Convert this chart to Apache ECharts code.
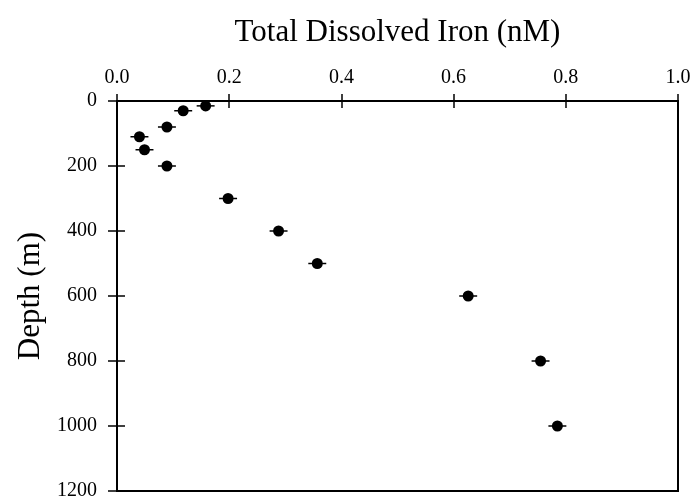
<!DOCTYPE html>
<html>
<head>
<meta charset="UTF-8">
<title>Total Dissolved Iron</title>
<script src="https://cdn.jsdelivr.net/npm/echarts@6/dist/echarts.min.js"></script>
<style>
  html, body { margin: 0; padding: 0; background: #fff; }
  #chart { width: 690px; height: 498px; }
</style>
</head>
<body>
<div id="chart"></div>
<script type="text/javascript">
// dissolved iron profile (nM) vs depth (m)
var iron = [0.158, 0.118, 0.089, 0.040, 0.049, 0.089, 0.198, 0.288, 0.357, 0.626, 0.755, 0.785];
var depth = [15, 30, 80, 110, 150, 200, 300, 400, 500, 600, 800, 1000];
var ironErr = [0.016, 0.016, 0.016, 0.016, 0.016, 0.016, 0.016, 0.016, 0.016, 0.016, 0.016, 0.016];
var xTicks = [0.0, 0.2, 0.4, 0.6, 0.8, 1.0];
var yTicks = [0, 200, 400, 600, 800, 1000, 1200];

var font = '"Liberation Serif", "Times New Roman", serif';
var points = iron.map(function (v, i) { return [v, depth[i]]; });
var bars = iron.map(function (v, i) { return [v, depth[i], ironErr[i]]; });

var chart = echarts.init(document.getElementById('chart'));

function xAxisBase(extra) {
  return Object.assign({
    type: 'value',
    position: 'top',
    min: xTicks[0],
    max: xTicks[xTicks.length - 1],
    interval: xTicks[1] - xTicks[0],
    splitLine: { show: false }
  }, extra);
}
function yAxisBase(extra) {
  return Object.assign({
    type: 'value',
    position: 'left',
    inverse: true,
    min: yTicks[0],
    max: yTicks[yTicks.length - 1],
    interval: yTicks[1] - yTicks[0],
    splitLine: { show: false }
  }, extra);
}

chart.setOption({
  animation: false,
  grid: {
    left: 117, right: 12, top: 101, bottom: 7,
    outerBoundsMode: 'none',
    show: true, borderColor: '#000', borderWidth: 2
  },
  xAxis: [
    xAxisBase({
      name: 'Total Dissolved Iron (nM)',
      nameLocation: 'middle',
      nameGap: 53,
      nameTextStyle: { fontFamily: font, fontSize: 31, color: '#000' },
      axisLine: { lineStyle: { color: '#000', width: 2 } },
      axisTick: { inside: false, length: 7, lineStyle: { color: '#000', width: 1.5 } },
      axisLabel: {
        margin: 13, fontFamily: font, fontSize: 20, color: '#000',
        formatter: function (v) { return v.toFixed(1); }
      }
    }),
    xAxisBase({
      axisLine: { show: false },
      axisTick: { inside: true, length: 7, lineStyle: { color: '#000', width: 1.5 } },
      axisLabel: { show: false }
    })
  ],
  yAxis: [
    yAxisBase({
      name: 'Depth (m)',
      nameLocation: 'middle',
      nameGap: 62,
      nameRotate: 90,
      nameTextStyle: { fontFamily: font, fontSize: 31, color: '#000' },
      axisLine: { lineStyle: { color: '#000', width: 2 } },
      axisTick: { inside: false, length: 9, lineStyle: { color: '#000', width: 1.5 } },
      axisLabel: {
        margin: 20, fontFamily: font, fontSize: 20, color: '#000',
        formatter: function (v) { return String(v); }
      }
    }),
    yAxisBase({
      axisLine: { show: false },
      axisTick: { inside: true, length: 8, lineStyle: { color: '#000', width: 1.5 } },
      axisLabel: { show: false }
    })
  ],
  series: [
    {
      type: 'custom',
      xAxisIndex: 0,
      yAxisIndex: 0,
      z: 2,
      data: bars,
      renderItem: function (params, api) {
        var x = api.value(0), y = api.value(1), e = api.value(2);
        var a = api.coord([x - e, y]);
        var b = api.coord([x + e, y]);
        return {
          type: 'line',
          shape: { x1: a[0], y1: a[1], x2: b[0], y2: b[1] },
          style: { stroke: '#000', lineWidth: 1.5 }
        };
      }
    },
    {
      type: 'scatter',
      xAxisIndex: 0,
      yAxisIndex: 0,
      z: 3,
      symbol: 'circle',
      symbolSize: 11,
      itemStyle: { color: '#000', opacity: 1 },
      data: points
    }
  ]
});
</script>
</body>
</html>
